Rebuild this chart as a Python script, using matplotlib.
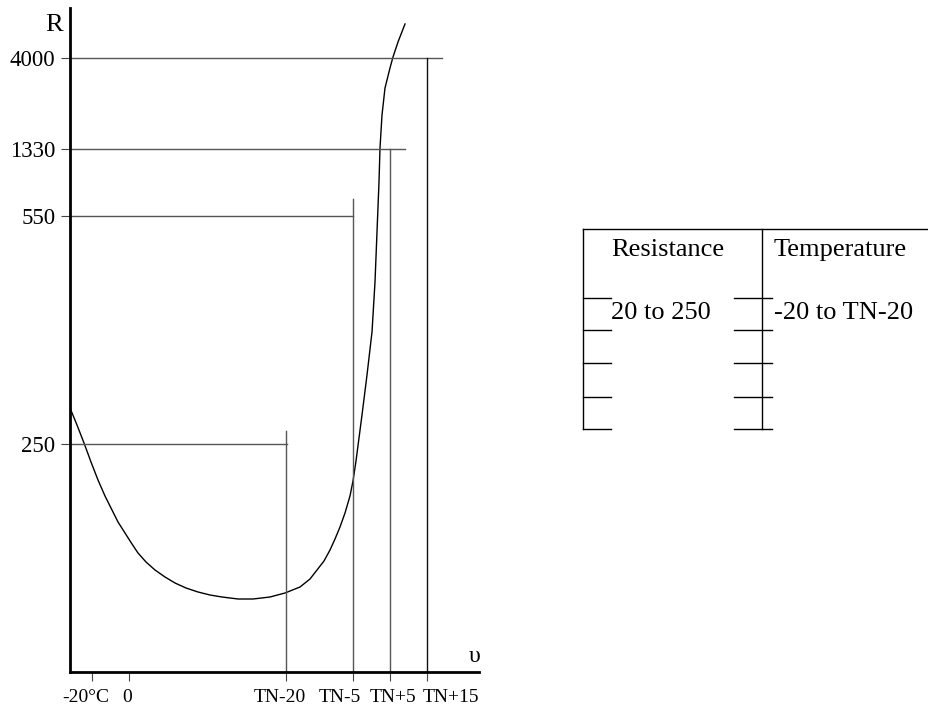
import matplotlib
matplotlib.use("Agg")
import matplotlib.pyplot as plt

plt.rcParams['font.family'] = ['Liberation Serif', 'DejaVu Serif']

# schematic R(T) curve of a PTC thermistor, in diagram units
curve_x = [0, 7, 14, 21, 28, 35, 42, 48, 55, 62, 68, 76, 85, 95, 105, 116, 128, 140,
           152, 168, 183, 200, 215, 230, 240, 247, 254, 260, 265, 270, 275, 280, 283,
           286, 289, 292, 297, 302, 305, 307, 309, 310, 312, 315, 320, 323, 328, 335]
curve_y = [264, 247, 229, 210, 192, 176, 162, 150, 139, 128, 119, 110, 102, 95, 89, 84,
           80, 77, 75, 73, 73, 75, 79, 85, 93, 102, 111, 122, 133, 145, 159, 176, 191,
           211, 234, 257, 297, 340, 390, 440, 490, 524, 557, 584, 604, 615, 630, 648]

x_tick_pos = [22, 59, 216, 283, 320, 357]
x_label_pos = [16, 57, 210, 270, 323, 381]
x_tick_labels = ["-20°C", "0", "TN-20", "TN-5", "TN+5", "TN+15"]

y_tick_pos = [228, 456, 523, 614]
y_tick_labels = ["250", "550", "1330", "4000"]

# guide lines: horizontal from R axis, vertical from T axis
h_line_y = [228, 456, 523, 614]
h_line_end = [217, 283, 335, 372]
v_line_x = [216, 283, 320, 357]
v_line_top = [241, 473, 523, 614]
v_line_col = ['#555555', '#555555', '#555555', '#111111']

table_headers = ["Resistance", "Temperature"]
table_rows = [["20 to 250", "-20 to TN-20"], ["", ""], ["", ""], ["", ""]]

fig = plt.figure(figsize=(9.29, 7.07), dpi=100)
W, H = 929, 707

ax = fig.add_axes([70 / W, (H - 672) / H, (479 - 70) / W, (672 - 8) / H])
ax.set_xlim(0, 409)
ax.set_ylim(0, 664)
for s in ['top', 'right']:
    ax.spines[s].set_visible(False)
for s in ['left', 'bottom']:
    ax.spines[s].set_linewidth(2)

ax.plot(curve_x, curve_y, color='black', lw=1)
for y, xe in zip(h_line_y, h_line_end):
    ax.plot([0, xe], [y, y], color='#555555', lw=1)
for x, yt, c in zip(v_line_x, v_line_top, v_line_col):
    ax.plot([x, x], [0, yt], color=c, lw=1)

# ticks on the axis, labels set a little aside like the drawing
ax.set_xticks(x_tick_pos, [""] * len(x_tick_pos))
ax.set_xticks(x_label_pos, x_tick_labels, minor=True, fontsize=14)
ax.tick_params(axis='x', which='minor', length=0, pad=12)
ax.set_yticks(y_tick_pos)
ax.set_yticklabels(y_tick_labels, fontsize=16.5)
ax.tick_params(axis='both', which='major', length=6.5, width=0.8,
               color='#444444', direction='out')
ax.tick_params(axis='y', pad=4)

fig.text(54 / W, 1 - 25 / H, "R", fontsize=19, ha='center', va='center')
fig.text(475 / W, 1 - 656 / H, "υ", fontsize=17, ha='center', va='center')

# table on the right
tx = fig.add_axes([583 / W, (H - 429) / H, (W - 583) / W, (429 - 229) / H])
tx.set_xlim(0, W - 583)
tx.set_ylim(200, 0)
tx.axis('off')
tx.plot([0, W - 583], [0, 0], color='black', lw=1, clip_on=False)
tx.plot([0, 0], [0, 200], color='black', lw=1, clip_on=False)
tx.plot([179, 179], [0, 200], color='black', lw=1, clip_on=False)
row_y = [69, 101, 134, 168, 200]
for y in row_y:
    tx.plot([0, 28], [y, y], color='black', lw=1, clip_on=False)
    tx.plot([151, 189], [y, y], color='black', lw=1, clip_on=False)

col_x = [28, 191]
for cx, h in zip(col_x, table_headers):
    tx.text(cx, 21, h, fontsize=19, ha='left', va='center')
for i, row in enumerate(table_rows):
    for cx, v in zip(col_x, row):
        if v:
            tx.text(cx, 84 + i * 33, v, fontsize=19, ha='left', va='center')

fig.savefig("out.png", dpi=100)
